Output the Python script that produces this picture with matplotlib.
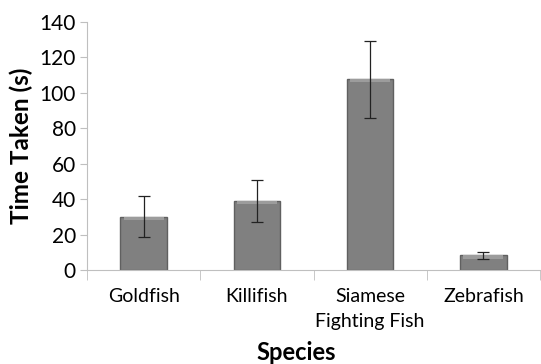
import matplotlib

matplotlib.use("Agg")
import matplotlib.pyplot as plt
import numpy as np

species = ["Goldfish", "Killifish", "Siamese\nFighting Fish", "Zebrafish"]
time_taken = [30.0, 39.0, 107.7, 8.2]
time_err = [11.5, 12.0, 21.7, 1.8]
y_ticks = [0, 20, 40, 60, 80, 100, 120, 140]

plt.rcParams["font.family"] = ["Lato", "DejaVu Sans"]

fig = plt.figure(figsize=(5.41, 3.64), dpi=100)
ax = fig.add_axes([87 / 541, 94 / 364, 453 / 541, 248 / 364])

x = np.arange(len(species))
bar_w = 0.41
ax.bar(x, time_taken, width=bar_w, color="#808080", edgecolor="#606060", linewidth=1.0, zorder=2)
# light bevel along the top of each bar
band = 1.8
ax.bar(x, [band] * len(x), bottom=[v - band for v in time_taken], width=bar_w * 0.86,
       color="#9c9c9c", linewidth=0, zorder=2.5)
ax.errorbar(x, time_taken, yerr=time_err, fmt="none", ecolor="#222222", elinewidth=0.9,
            capsize=4, capthick=0.9, zorder=3)

ax.set_xlim(-0.5, len(species) - 0.5)
ax.set_ylim(0, 140)
ax.set_yticks(y_ticks)
ax.tick_params(axis="y", labelsize=15, length=5, color="#bfbfbf", pad=3)
ax.set_xticks(x)
ax.set_xticklabels(species, fontsize=14, linespacing=1.55)
ax.tick_params(axis="x", length=0, pad=13)
ax.set_xticks(np.arange(len(species) + 1) - 0.5, minor=True)
ax.tick_params(axis="x", which="minor", length=7, color="#bfbfbf")

for side in ["top", "right"]:
    ax.spines[side].set_visible(False)
for side in ["left", "bottom"]:
    ax.spines[side].set_color("#bfbfbf")

ax.set_ylabel("Time Taken (s)", fontsize=17.5, fontweight="bold", labelpad=5)
xl = ax.set_xlabel("Species", fontsize=17, fontweight="bold")
xl.set_va("center")
ax.xaxis.set_label_coords(0.461, -0.332)

fig.savefig("out.png", dpi=100)
